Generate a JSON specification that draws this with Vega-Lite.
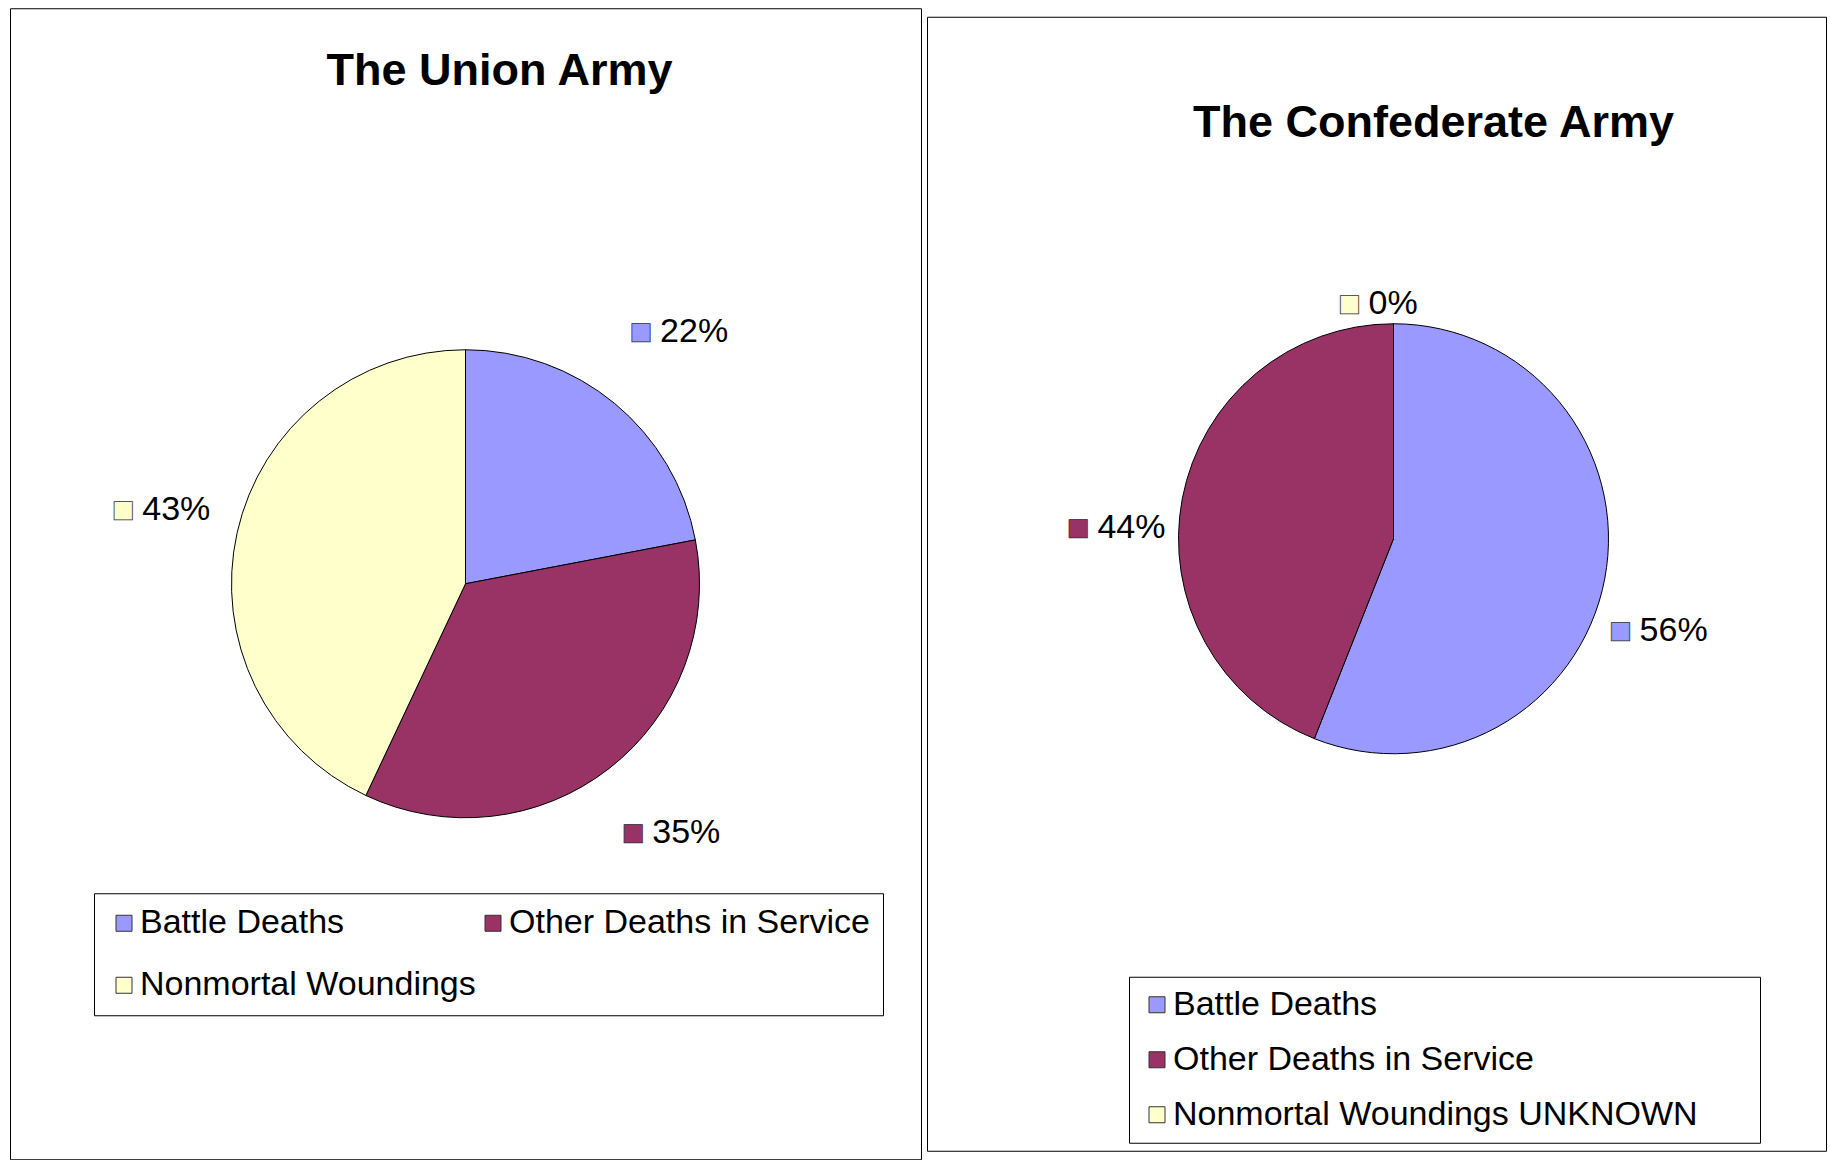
{
  "$schema": "https://vega.github.io/schema/vega-lite/v6.json",
  "background": "white",
  "padding": {"left": 9, "top": 7, "right": 0, "bottom": 0},
  "config": {
    "view": {"stroke": "#000", "strokeWidth": 1},
    "font": "Liberation Sans",
    "title": {"font": "Liberation Sans", "fontSize": 45, "fontWeight": "bold", "color": "#000", "anchor": "middle"}
  },
  "spacing": 4,
  "center": true,
  "resolve": {"scale": {"color": "independent", "theta": "independent"}, "legend": {"color": "independent"}},
  "hconcat": [
    {
      "width": 911,
      "height": 1151,
      "view": {"stroke": "#000", "strokeWidth": 1},
      "title": {"text": "The Union Army", "offset": -86, "dx": 34},
      "data": {"values": [
        {"category": "Battle Deaths", "idx": 1, "value": 22, "label": "22%"},
        {"category": "Other Deaths in Service", "idx": 2, "value": 35, "label": "35%"},
        {"category": "Nonmortal Woundings", "idx": 3, "value": 43, "label": "43%"}
      ]},
      "encoding": {
        "theta": {"field": "value", "type": "quantitative", "stack": true},
        "order": {"field": "idx", "type": "quantitative"},
        "color": {
          "field": "category", "type": "nominal",
          "scale": {"domain": ["Battle Deaths", "Other Deaths in Service", "Nonmortal Woundings"], "range": ["#9999FF", "#993366", "#FFFFCC"]},
          "legend": {
            "orient": "none", "legendX": 84, "legendY": 885, "title": null,
            "direction": "horizontal", "columns": 2, "gridAlign": "each", "columnPadding": 0, "rowPadding": 28,
            "symbolType": "square", "symbolSize": 256, "symbolStrokeColor": "#333", "symbolStrokeWidth": 1,
            "labelFont": "Liberation Sans", "labelFontSize": 34, "labelColor": "#000", "labelOffset": -1, "labelLimit": 1000,
            "strokeColor": "#000", "fillColor": "#fff", "padding": 13, "cornerRadius": 0
          }
        }
      },
      "layer": [
        {"mark": {"type": "arc", "outerRadius": 234, "stroke": "#000", "strokeWidth": 1}},
        {"mark": {"type": "text", "radius": 321, "text": "■", "font": "DejaVu Sans", "fontSize": 24, "align": "center", "baseline": "middle", "dx": -40, "stroke": "#333", "strokeWidth": 0.8, "xOffset": 11, "yOffset": -4}},
        {"mark": {"type": "text", "radius": 321, "font": "Liberation Sans", "fontSize": 34, "align": "left", "baseline": "middle", "dx": -21, "xOffset": 11, "yOffset": -4},
         "encoding": {"text": {"field": "label"}, "color": {"value": "#000"}}}
      ]
    },
    {
      "width": 899,
      "height": 1134,
      "view": {"stroke": "#000", "strokeWidth": 1},
      "title": {"text": "The Confederate Army", "offset": -129, "dx": 57},
      "data": {"values": [
        {"category": "Battle Deaths", "idx": 1, "value": 56, "label": "56%"},
        {"category": "Other Deaths in Service", "idx": 2, "value": 44, "label": "44%"},
        {"category": "Nonmortal Woundings UNKNOWN", "idx": 3, "value": 0, "label": "0%"}
      ]},
      "encoding": {
        "theta": {"field": "value", "type": "quantitative", "stack": true},
        "order": {"field": "idx", "type": "quantitative"},
        "color": {
          "field": "category", "type": "nominal",
          "scale": {"domain": ["Battle Deaths", "Other Deaths in Service", "Nonmortal Woundings UNKNOWN"], "range": ["#9999FF", "#993366", "#FFFFCC"]},
          "legend": {
            "orient": "none", "legendX": 202, "legendY": 960, "title": " ", "titleOrient": "right", "titleFontSize": 34, "titlePadding": 51,
            "columns": 1, "direction": "vertical", "rowPadding": 21,
            "symbolType": "square", "symbolSize": 256, "symbolStrokeColor": "#333", "symbolStrokeWidth": 1,
            "labelFont": "Liberation Sans", "labelFontSize": 34, "labelColor": "#000", "labelOffset": -1, "labelLimit": 1000,
            "strokeColor": "#000", "fillColor": "#fff", "padding": 11, "cornerRadius": 0
          }
        }
      },
      "layer": [
        {"mark": {"type": "arc", "outerRadius": 215, "stroke": "#000", "strokeWidth": 1, "xOffset": 17, "yOffset": -45}},
        {"mark": {"type": "text", "radius": 276, "text": "■", "font": "DejaVu Sans", "fontSize": 24, "align": "center", "baseline": "middle", "dx": -40, "stroke": "#333", "strokeWidth": 0.8, "xOffset": 13, "yOffset": -4}},
        {"mark": {"type": "text", "radius": 276, "font": "Liberation Sans", "fontSize": 34, "align": "left", "baseline": "middle", "dx": -21, "xOffset": 13, "yOffset": -4},
         "encoding": {"text": {"field": "label"}, "color": {"value": "#000"}}}
      ]
    }
  ]
}
